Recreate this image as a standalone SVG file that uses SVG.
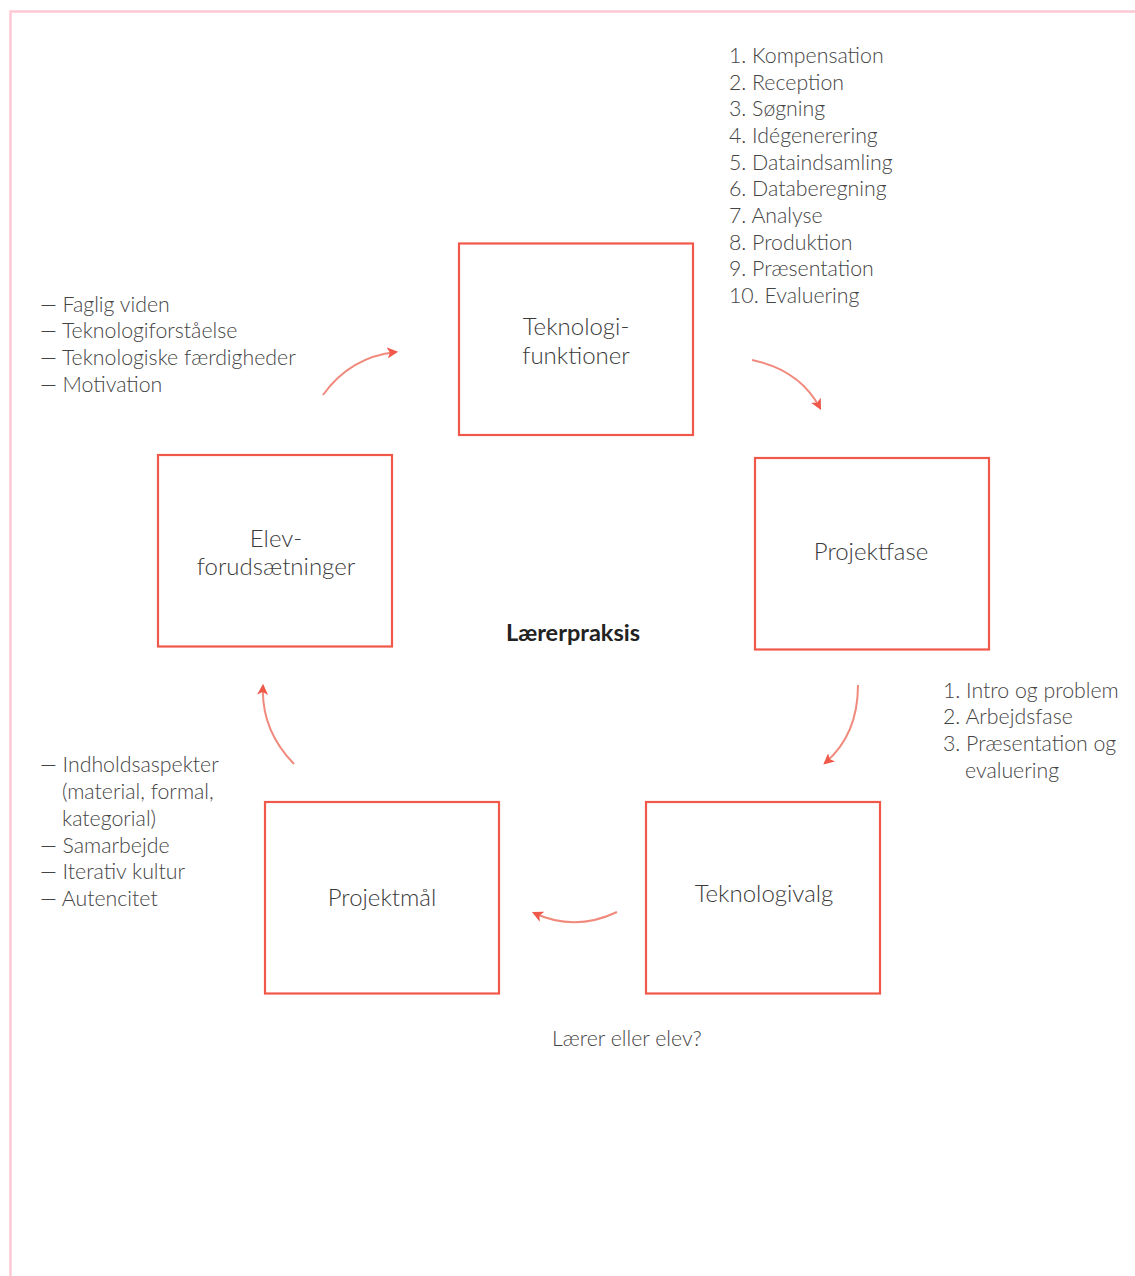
<svg xmlns="http://www.w3.org/2000/svg" width="1135" height="1276" viewBox="0 0 1135 1276">
<style>
.box{fill:#fff;stroke:#f0584a;stroke-width:2.2}
.lbl{font-family:Lato,"Liberation Sans",sans-serif;font-weight:300;font-size:24px;fill:#3a3a3a;text-anchor:middle}
.txt{font-family:Lato,"Liberation Sans",sans-serif;font-weight:300;font-size:21.3px;fill:#444}
.con{fill:none;stroke:#f08a7c;stroke-width:2}
</style>
<defs>
<marker id="ah" viewBox="0 0 10 10" refX="8" refY="5" markerWidth="5.5" markerHeight="5.5" orient="auto" markerUnits="strokeWidth">
<path d="M0,0 L10,5 L0,10 L2.5,5 z" fill="#f0584a"/>
</marker>
</defs>
<rect width="1135" height="1276" fill="#fff"/>
<path d="M10.5,1276 V11.5 H1135" fill="none" stroke="#ffc9d3" stroke-width="2.5"/>

<g id="connectors">
<path class="con" d="M323,395 Q350,357 396,352" marker-end="url(#ah)"/>
<path class="con" d="M752,360 Q800,370 820,408" marker-end="url(#ah)"/>
<path class="con" d="M858,685 Q858,735 825,763" marker-end="url(#ah)"/>
<path class="con" d="M617,912 Q575,932 534,913" marker-end="url(#ah)"/>
<path class="con" d="M294,764 Q261,730 263,686" marker-end="url(#ah)"/>
</g>

<g id="node-teknologifunktioner">
<rect class="box" x="459" y="243.5" width="234" height="191.5"/>
<text class="lbl" x="576" y="335">Teknologi-</text>
<text class="lbl" x="576" y="364">funktioner</text>
</g>
<g id="node-projektfase">
<rect class="box" x="755" y="458" width="234" height="191.5"/>
<text class="lbl" x="871" y="560">Projektfase</text>
</g>
<g id="node-elevforudsaetninger">
<rect class="box" x="158" y="455" width="234" height="191.5"/>
<text class="lbl" x="276" y="547">Elev-</text>
<text class="lbl" x="276" y="575">forudsætninger</text>
</g>
<g id="node-projektmaal">
<rect class="box" x="265" y="802" width="234" height="191.5"/>
<text class="lbl" x="382" y="906">Projektmål</text>
</g>
<g id="node-teknologivalg">
<rect class="box" x="646" y="802" width="234" height="191.5"/>
<text class="lbl" x="764" y="902">Teknologivalg</text>
</g>

<g id="list-top-right" class="txt">
<text x="729" y="63">1. Kompensation</text>
<text x="729" y="90">2. Reception</text>
<text x="729" y="116">3. Søgning</text>
<text x="729" y="143">4. Idégenerering</text>
<text x="729" y="170">5. Dataindsamling</text>
<text x="729" y="196">6. Databeregning</text>
<text x="729" y="223">7. Analyse</text>
<text x="729" y="250">8. Produktion</text>
<text x="729" y="276">9. Præsentation</text>
<text x="729" y="303">10. Evaluering</text>
</g>

<g id="list-left" class="txt">
<text x="40" y="312">— Faglig viden</text>
<text x="40" y="338">— Teknologiforståelse</text>
<text x="40" y="365">— Teknologiske færdigheder</text>
<text x="40" y="392">— Motivation</text>
</g>

<g id="list-bottom-left" class="txt">
<text x="40" y="772">— Indholdsaspekter</text>
<text x="62" y="799">(material, formal,</text>
<text x="62" y="826">kategorial)</text>
<text x="40" y="853">— Samarbejde</text>
<text x="40" y="879">— Iterativ kultur</text>
<text x="40" y="906">— Autencitet</text>
</g>

<g id="list-right" class="txt">
<text x="943" y="698">1. Intro og problem</text>
<text x="943" y="724">2. Arbejdsfase</text>
<text x="943" y="751">3. Præsentation og</text>
<text x="965" y="778">evaluering</text>
</g>

<text x="573" y="641" style="font-family:Lato,'Liberation Sans',sans-serif;font-weight:700;font-size:23.5px;fill:#222;text-anchor:middle">Lærerpraksis</text>
<text class="txt" x="552" y="1046">Lærer eller elev?</text>
</svg>
